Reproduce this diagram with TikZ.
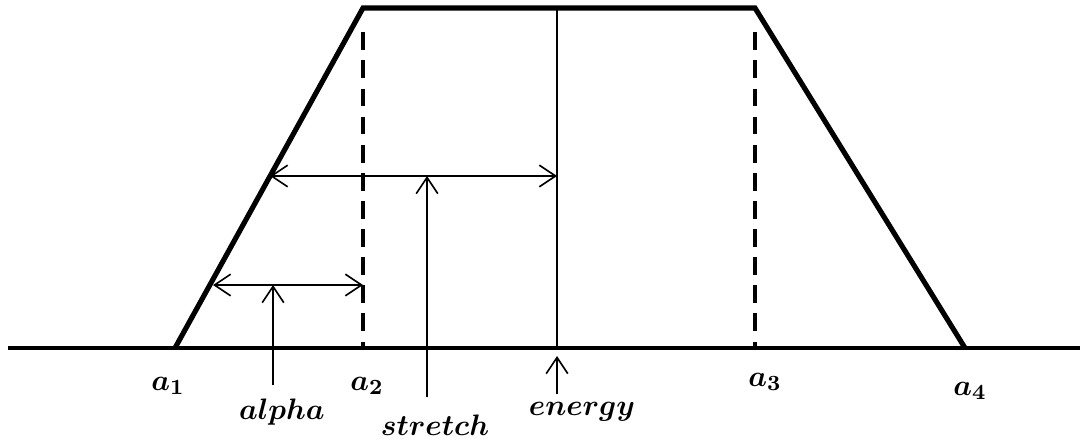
\documentclass[tikz,border=0pt]{standalone}
\usepackage{tikz}
\usetikzlibrary{arrows.meta, positioning, calc}
\usepackage{amsmath,amssymb}

\begin{document}
\begin{tikzpicture}[
    x=0.37pt, y=-0.37pt,
    trap/.style={line width=1.9pt, line join=miter},
    axis/.style={line width=1.2pt},
    guide/.style={line width=1.5pt, dash pattern=on 6.6pt off 3.8pt},
    thinline/.style={line width=0.6pt},
    dim/.style={{Straight Barb[length=6pt,width=8pt]}-{Straight Barb[length=6pt,width=8pt]}, line width=0.6pt},
    pointer/.style={-{Straight Barb[length=6pt,width=8pt]}, line width=0.6pt},
    lab/.style={font=\fontsize{10.8}{13}\selectfont, inner sep=1pt}
]
\useasboundingbox (0,0) rectangle (1086,439);

% Points
\coordinate (a1) at (175,348);
\coordinate (a2) at (363,8);
\coordinate (a3) at (755,8);
\coordinate (a4) at (965,348);
\coordinate (e) at (557,8);

% Axis and trapezoid
\draw[axis] (8,348) -- (1080,348);
\draw[guide] ([yshift=-9]a2) -- (a2 |- a1);
\draw[guide] ([yshift=-9]a3) -- (a3 |- a1);
\draw[trap] (a1) -- (a2) -- (a3) -- (a4);
\draw[thinline] (e) -- (e |- a1);

% Labels
\node[lab] (la1) at (168,386) {$\boldsymbol{a_1}$};
\node[lab] (la2) at (367,386) {$\boldsymbol{a_2}$};
\node[lab] (la3) at (765,382) {$\boldsymbol{a_3}$};
\node[lab] (la4) at (970,391) {$\boldsymbol{a_4}$};
\node[lab] (alpha) at (282,412) {$\boldsymbol{alpha}$};
\node[lab] (stretch) at (435,425) {$\boldsymbol{stretch}$};
\node[lab] (energy) at (582,412) {$\boldsymbol{energy}$};

% Dimension arrows
\coordinate (sl) at (270,176);
\coordinate (sr) at (557,176);
\coordinate (al) at (213,285);
\coordinate (ar) at (363,285);
\draw[dim] (sl) -- (sr);
\draw[dim] (al) -- (ar);

% Pointers
\coordinate (p1) at (273,385);
\coordinate (p2) at (427,397);
\coordinate (p3) at (557,394);
\draw[pointer] (p1) -- (p1 |- al);
\draw[pointer] (p2) -- (p2 |- sl);
\draw[pointer] (p3) -- (557,356);

\end{tikzpicture}
\end{document}
